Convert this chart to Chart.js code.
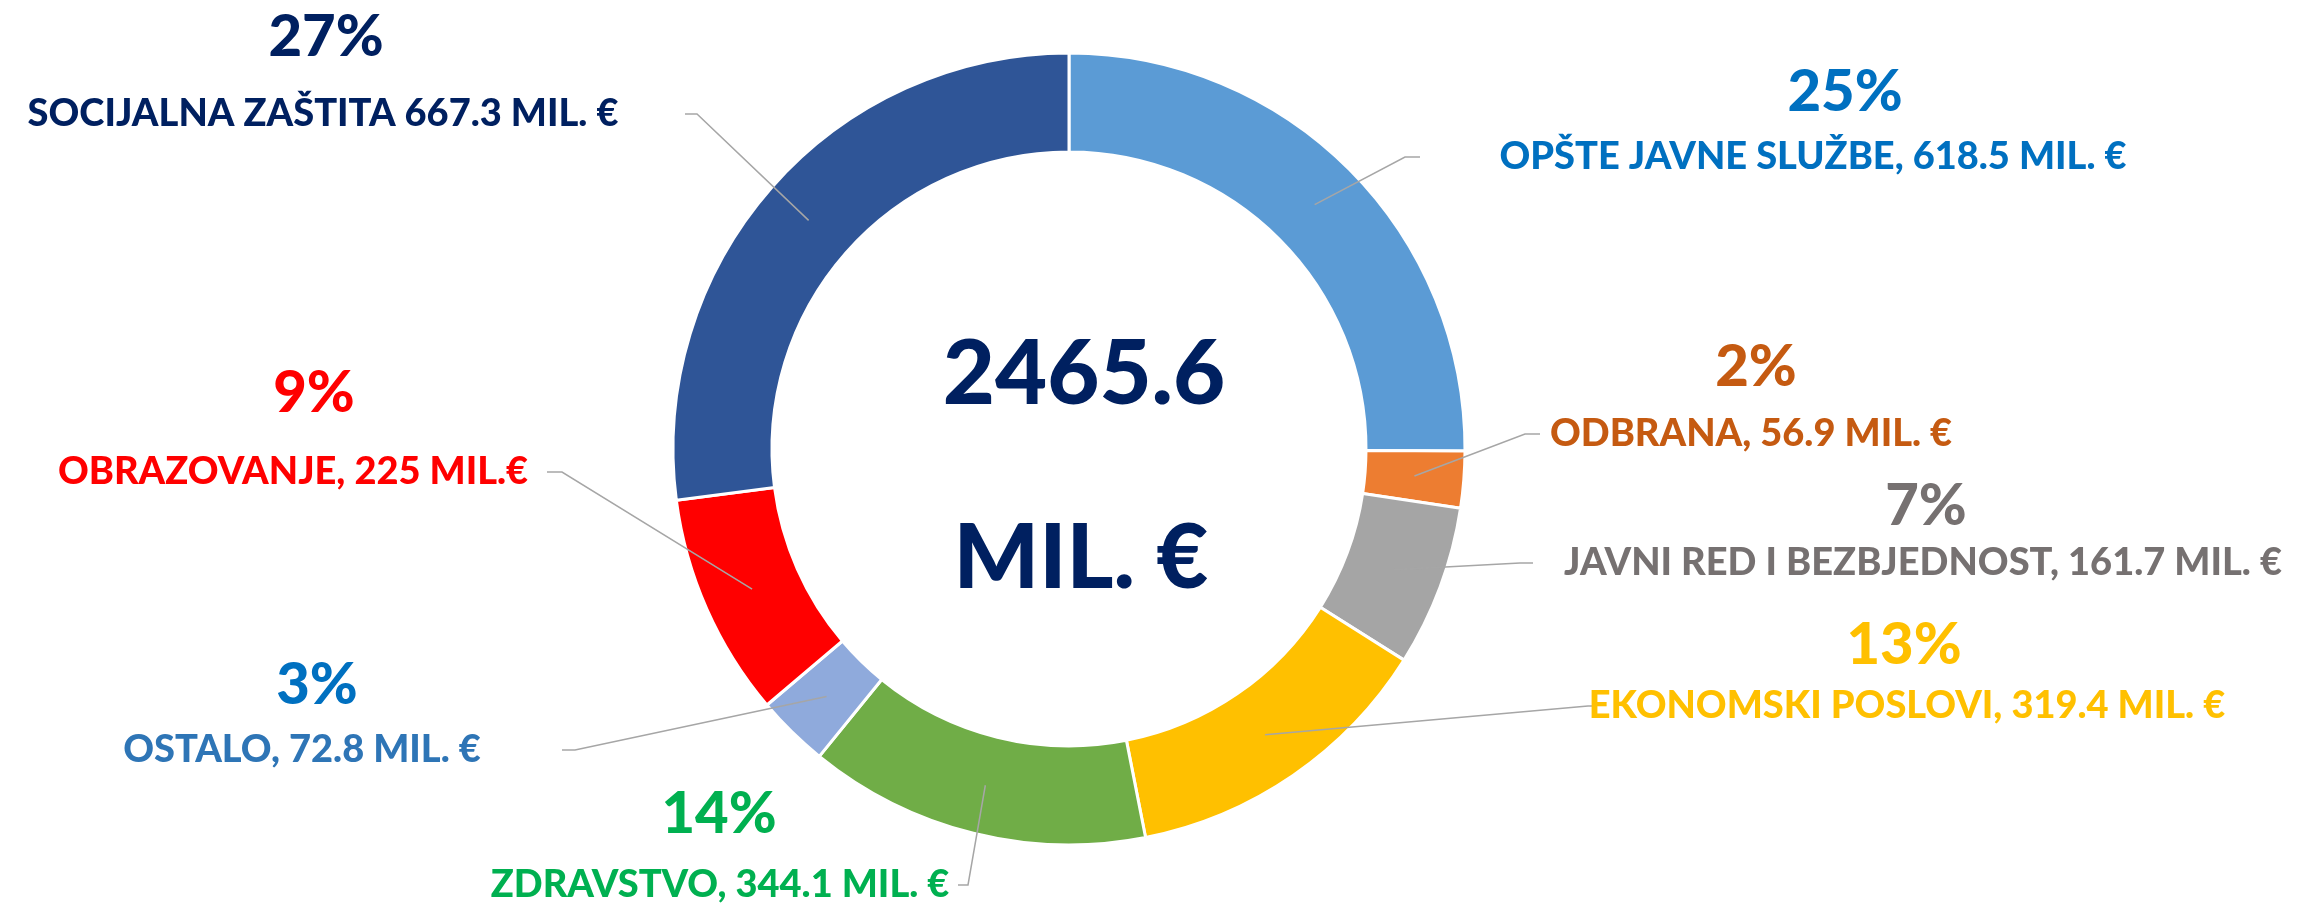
<!DOCTYPE html>
<html>
<head>
<meta charset="utf-8">
<script src="https://cdn.jsdelivr.net/npm/chart.js@4/dist/chart.umd.min.js"></script>
<style>
  html, body { margin: 0; padding: 0; background: #fff; }
  #wrap { width: 2300px; height: 904px; position: relative; }
</style>
</head>
<body>
<div id="wrap"><canvas id="budget"></canvas></div>
<script>
// slices, clockwise from 12 o'clock
const categories = ['OPŠTE JAVNE SLUŽBE', 'ODBRANA', 'JAVNI RED I BEZBJEDNOST', 'EKONOMSKI POSLOVI',
  'ZDRAVSTVO', 'OSTALO', 'OBRAZOVANJE', 'SOCIJALNA ZAŠTITA'];
const amounts = [618.5, 56.9, 161.7, 319.4, 344.1, 72.8, 225, 667.3];
const valueLabels = ['OPŠTE JAVNE SLUŽBE, 618.5 MIL. €', 'ODBRANA, 56.9 MIL. €',
  'JAVNI RED I BEZBJEDNOST, 161.7 MIL. €', 'EKONOMSKI POSLOVI, 319.4 MIL. €',
  'ZDRAVSTVO, 344.1 MIL. €', 'OSTALO, 72.8 MIL. €', 'OBRAZOVANJE, 225 MIL.€',
  'SOCIJALNA ZAŠTITA 667.3 MIL. €'];
const centerLines = ['2465.6', 'MIL. €'];

const sliceColors = ['#5B9BD5', '#ED7D31', '#A5A5A5', '#FFC000', '#70AD47', '#8FAADC', '#FF0000', '#2F5597'];
const pctColors = ['#0070C0', '#C55A11', '#767171', '#FFC000', '#00B050', '#0070C0', '#FF0000', '#002060'];
const textColors = ['#0070C0', '#C55A11', '#767171', '#FFC000', '#00B050', '#2E75B6', '#FF0000', '#002060'];

// where each callout sits: percent centre, label centre, leader elbow and end
const callouts = [
  { px: 1845, py: 92,  tx: 1813, ty: 157, ex: 1405, end: 1420 },
  { px: 1756, py: 367, tx: 1751, ty: 434, ex: 1525, end: 1540 },
  { px: 1926, py: 506, tx: 1923, ty: 563, ex: 1520, end: 1533 },
  { px: 1904, py: 645, tx: 1907, ty: 706, ex: 1588, end: 1596 },
  { px: 719,  py: 814, tx: 720,  ty: 885, ex: 968,  end: 958 },
  { px: 317,  py: 685, tx: 302,  ty: 750, ex: 575,  end: 562 },
  { px: 314,  py: 393, tx: 293,  ty: 472, ex: 562,  end: 547 },
  { px: 326,  py: 37,  tx: 323,  ty: 114, ex: 697,  end: 685 }
];

const FONT = 'Lato, "Open Sans", sans-serif';

const calloutPlugin = {
  id: 'callouts',
  afterDatasetsDraw(chart) {
    const ctx = chart.ctx;
    const arcs = chart.getDatasetMeta(0).data;
    const total = amounts.reduce((a, b) => a + b, 0);
    ctx.save();
    arcs.forEach((arc, i) => {
      const c = callouts[i];
      const p = arc.getCenterPoint();
      ctx.strokeStyle = '#A6A6A6';
      ctx.lineWidth = 1.5;
      ctx.beginPath();
      ctx.moveTo(p.x, p.y);
      ctx.lineTo(c.ex, c.ty);
      ctx.lineTo(c.end, c.ty);
      ctx.stroke();

      ctx.textAlign = 'center';
      ctx.textBaseline = 'middle';
      ctx.fillStyle = pctColors[i];
      ctx.font = '900 58px ' + FONT;
      ctx.fillText(Math.round(amounts[i] / total * 100) + '%', c.px, c.py);
      ctx.fillStyle = textColors[i];
      ctx.font = '900 38px ' + FONT;
      ctx.fillText(valueLabels[i], c.tx, c.ty);
    });

    const m = arcs[0];
    ctx.fillStyle = '#002060';
    ctx.font = '900 90px ' + FONT;
    ctx.fillText(centerLines[0], m.x + 15, m.y - 74);
    ctx.fillText(centerLines[1], m.x + 12, m.y + 110);
    ctx.restore();
  }
};

new Chart(document.getElementById('budget'), {
  type: 'doughnut',
  data: {
    labels: categories,
    datasets: [{
      data: amounts,
      backgroundColor: sliceColors,
      borderColor: '#ffffff',
      borderWidth: 3
    }]
  },
  options: {
    responsive: true,
    maintainAspectRatio: false,
    animation: false,
    radius: 396,
    cutout: '75%',
    layout: { padding: { top: 53, bottom: 59, left: 0, right: 162 } },
    plugins: {
      legend: { display: false },
      tooltip: { enabled: false }
    }
  },
  plugins: [calloutPlugin]
});
</script>
</body>
</html>
